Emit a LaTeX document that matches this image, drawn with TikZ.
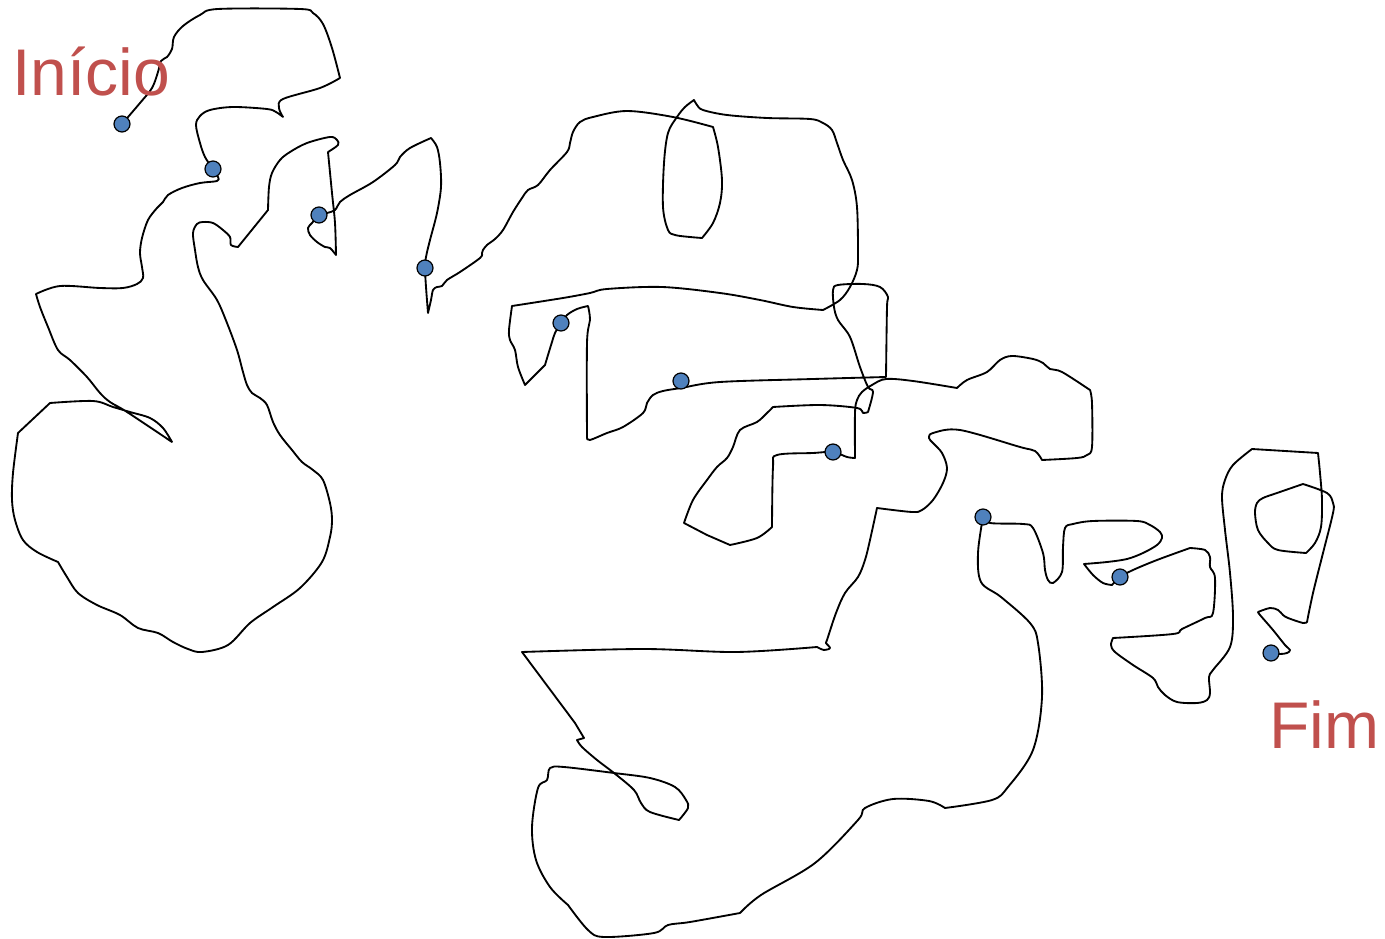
\documentclass[tikz,border=0pt]{standalone}
\usepackage{fontspec}
\setmainfont{Liberation Sans}
\definecolor{dotcolor}{HTML}{4F81BD}
\definecolor{labelcolor}{HTML}{C0504D}
\tikzset{
  walk/.style={black, line width=1.85pt, line cap=round, line join=round},
  trail/.style={smooth, tension=0.55},
  waypoint/.style={circle, draw=black, fill=dotcolor, line width=1.2pt, minimum size=16pt, inner sep=0pt},
  endlabel/.style={text=labelcolor, font=\fontsize{66}{66}\selectfont, inner sep=0pt}
}

\begin{document}
\begin{tikzpicture}[x=1pt, y=-1pt]
  \useasboundingbox (0,0) rectangle (1385,939);
  % Stops along the walk
  \coordinate (d1) at (122,124);
  \coordinate (d2) at (213,169);
  \coordinate (d3) at (319,215);
  \coordinate (d4) at (425,268);
  \coordinate (d5) at (561,323);
  \coordinate (d6) at (681,381);
  \coordinate (d7) at (833,452);
  \coordinate (d8) at (983,517);
  \coordinate (d9) at (1120,577);
  \coordinate (d10) at (1271,653);
  % Walk: top left and left blob
  \draw[walk] plot[trail] coordinates {(d1) (140,103) (152,88) (158,72) (161,61) (167,57) (172,49) (174,37) (183,26) (200,15) (218,9) (300,9) (313,13) (323,24) (332,48) (340,78)}
    -- plot[trail] coordinates {(340,78) (320,88) (283,99) (279,108) (283,117)}
    -- plot[trail] coordinates {(283,117) (276,112) (267,109) (233,107) (210,110) (200,116) (196,125) (200,143) (205,157) (d2) (218,177) (217,181) (200,183) (182,188) (168,195) (163,202) (157,208) (148,220) (142,238) (140,253) (142,267) (143,278) (137,284) (123,288) (100,288) (60,286) (36,294)}
    -- plot[trail] coordinates {(36,294) (40,307) (48,327) (58,350) (70,360) (87,377) (100,393) (110,402) (127,412) (172,442)}
    -- plot[trail] coordinates {(172,442) (163,428) (150,418) (130,412) (113,407) (93,401) (50,403)}
    -- (18,433)
    -- plot[trail] coordinates {(18,433) (13,473) (12,500) (15,520) (23,540) (37,552) (58,562)}
    -- plot[trail] coordinates {(58,562) (67,577) (78,593) (97,605) (120,615) (138,628) (158,633) (173,642) (188,649) (202,652) (228,645) (250,623) (273,607) (300,588) (322,562) (330,537) (332,520) (330,503) (323,480) (313,470) (302,462) (292,450) (280,435) (273,422) (267,405) (260,398) (252,393) (247,385) (243,372) (237,350) (227,323) (217,300) (203,280) (198,267) (195,250) (193,233) (197,224) (203,222) (213,223) (223,230) (230,237) (231,245) (238,247)}
    -- (268,210)
    -- plot[trail] coordinates {(268,210) (269,187) (272,173) (280,160) (290,152) (307,143) (330,137) (337,140) (338,145) (328,152)}
    -- plot[trail] coordinates {(328,152) (332,193) (335,223) (336,255)}
    -- plot[trail] coordinates {(336,255) (330,248) (325,247) (317,242) (310,235) (308,228) (312,223) (d3) (327,213) (335,210) (340,202) (350,195) (373,182) (395,165) (400,157) (410,148) (431,138)}
    -- plot[trail] coordinates {(431,138) (437,147) (440,163) (441,187) (437,213) (430,240) (426,257) (d4) (426,287) (428,313)}
    -- plot[trail] coordinates {(428,313) (431,300) (433,290) (437,287) (442,286) (447,280) (460,272) (480,258) (482,253) (483,250) (487,245) (495,239) (503,230) (513,212) (522,198) (528,190) (538,185) (550,170) (567,152) (570,143) (573,132) (580,122) (593,117) (627,111) (673,117) (713,127)};
  % Walk: top boxes and middle
  \draw[walk] plot[trail] coordinates {(713,127) (718,147) (722,180) (720,203) (713,223) (702,238)}
    -- plot[trail] coordinates {(702,238) (690,237) (675,235) (668,230) (663,207) (664,163) (668,133) (677,117) (685,107) (694,100)}
    -- plot[trail] coordinates {(694,100) (697,105) (703,110) (727,115) (767,118) (810,119) (823,123) (832,130) (837,143) (843,160) (852,180) (857,207) (858,253) (857,270) (850,287) (840,300) (823,310)}
    -- plot[trail] coordinates {(823,310) (793,307) (760,300) (720,293) (662,287) (607,289) (590,293) (563,298) (512,306)}
    -- plot[trail] coordinates {(512,306) (509,330) (510,340) (515,350) (518,367) (525,385)}
    -- (545,365)
    -- plot[trail] coordinates {(545,365) (548,355) (552,342) (555,333) (d5) (567,315) (577,309) (588,306)}
    -- plot[trail] coordinates {(588,306) (590,320) (587,343) (587,438)}
    -- plot[trail] coordinates {(587,438) (590,440) (607,433) (623,427) (643,413) (647,403) (653,395) (663,391) (681,388) (720,382) (813,379) (886,377)}
    -- plot[trail] coordinates {(886,377) (887,307) (888,297) (880,287) (863,284) (838,285) (833,290) (834,307) (838,320) (850,337) (860,367) (868,387) (873,392) (868,412)}
    -- plot[trail] coordinates {(868,412) (863,413) (857,408) (820,405) (773,407)}
    -- plot[trail] coordinates {(773,407) (767,413) (757,422) (740,430) (733,447) (727,458) (717,467) (707,480) (693,500) (684,523)}
    -- (707,535) -- (730,545)
    -- plot[trail] coordinates {(730,545) (757,538) (772,527)}
    -- plot[trail] coordinates {(772,527) (773,467) (777,455) (813,453) (d7) (847,457) (855,458)}
    -- plot[trail] coordinates {(855,458) (855,413) (857,400) (862,392) (872,385) (886,379) (913,381) (957,388)}
    -- plot[trail] coordinates {(957,388) (967,380) (987,372) (1000,360) (1012,356) (1033,359) (1043,363) (1050,369) (1062,372) (1090,390)}
    -- plot[trail] coordinates {(1090,390) (1092,403) (1092,447) (1087,455) (1077,458) (1042,460)}
    -- plot[trail] coordinates {(1042,460) (1035,451) (1020,447) (960,430) (933,433) (929,438) (933,443) (942,453) (947,468) (943,483) (933,500) (922,510) (912,512) (877,508)};
  % Walk: bottom blob
  \draw[walk] plot[trail] coordinates {(877,508) (870,540) (865,560) (858,577) (845,593) (836,613) (827,640) (826,643) (830,648) (824,650) (817,647)}
    -- plot[trail] coordinates {(817,647) (736,652) (643,649) (522,652)}
    -- (575,723) -- (584,738) -- (577,740)
    -- plot[trail] coordinates {(577,740) (582,747) (597,760) (614,773) (634,790) (641,803) (650,812) (679,820)}
    -- plot[trail] coordinates {(679,820) (688,808) (686,800) (675,787) (650,778) (614,773) (564,767) (550,768) (547,780) (538,788) (532,827) (536,860) (550,887) (568,905)}
    -- plot[trail] coordinates {(568,905) (588,930) (604,937) (654,933) (668,925) (690,922) (740,913)}
    -- plot[trail] coordinates {(740,913) (761,895) (815,863) (858,820) (865,808) (893,799) (929,801) (945,808)}
    -- plot[trail] coordinates {(945,808) (992,800) (1008,787) (1033,750) (1042,697) (1038,643) (1030,623) (1001,597) (981,582) (978,553) (d8)};
  % Walk: right part to the end
  \draw[walk] plot[trail] coordinates {(d8) (990,523) (1023,524) (1033,528) (1043,553) (1045,570) (1048,580) (1053,583) (1062,572) (1063,547) (1065,528) (1073,524) (1093,521) (1137,521) (1150,525) (1160,532) (1162,538) (1157,545) (1143,553) (1127,559) (1107,562) (1084,564)}
    -- plot[trail] coordinates {(1084,564) (1093,575) (1103,583) (1112,585)}
    -- plot[trail] coordinates {(1112,585) (d9) (1133,570) (1157,560) (1190,548)}
    -- plot[trail] coordinates {(1190,548) (1205,550) (1210,557) (1210,567) (1215,578) (1213,613) (1205,618) (1182,629) (1173,634) (1113,638)}
    -- plot[trail] coordinates {(1113,638) (1111,645) (1115,652) (1133,665) (1153,678) (1158,687) (1165,695) (1177,702) (1197,703) (1207,700) (1210,693) (1209,677) (1213,670) (1230,647) (1233,617) (1230,573) (1225,530) (1222,497) (1225,480) (1233,465) (1252,449)}
    -- (1318,453)
    -- plot[trail] coordinates {(1318,453) (1320,473) (1322,500) (1321,527) (1315,543) (1306,553)}
    -- plot[trail] coordinates {(1306,553) (1278,550) (1268,543) (1258,530) (1255,513) (1257,503) (1263,498) (1277,493) (1303,484)}
    -- plot[trail] coordinates {(1303,484) (1327,493) (1333,503) (1333,513) (1323,553) (1313,593) (1307,622)}
    -- plot[trail] coordinates {(1307,622) (1303,623) (1288,618) (1283,615) (1278,610) (1270,608) (1258,612)}
    -- plot[trail] coordinates {(1258,612) (1260,615) (1273,630) (1285,645) (1290,650) (1287,653) (1280,654) (d10)};
  % Dots
  \foreach \dd in {d1,d2,d3,d4,d5,d6,d7,d8,d9,d10}
    \node[waypoint] (w\dd) at (\dd) {};
  % Labels
  \node[endlabel, anchor=base west] (start) at (12,96) {Início};
  \node[endlabel, anchor=base west] (finish) at (1269,748) {Fim};
\end{tikzpicture}
\end{document}
